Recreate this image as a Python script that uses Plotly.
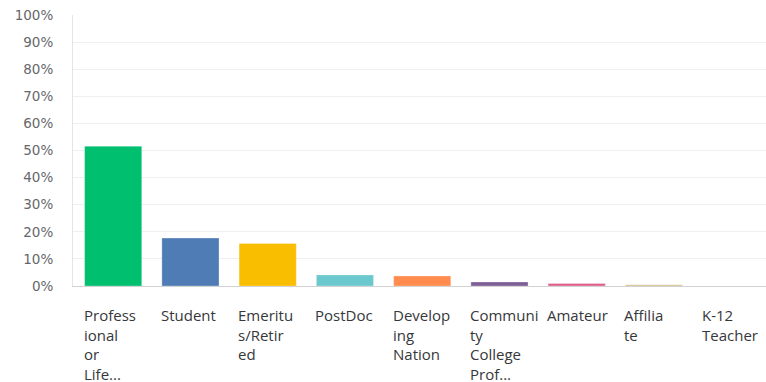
import plotly.graph_objects as go

# Respondent categories and their share of responses (%)
categories = ["Professional or Life...", "Student", "Emeritus/Retired", "PostDoc",
              "Developing Nation", "Community College Prof...", "Amateur", "Affiliate",
              "K-12 Teacher"]
tick_labels = ["Profess<br>ional<br>or<br>Life...", "Student", "Emeritu<br>s/Retir<br>ed",
               "PostDoc", "Develop<br>ing<br>Nation", "Communi<br>ty<br>College<br>Prof...",
               "Amateur", "Affilia<br>te", "K-12<br>Teacher"]
percent = [51.6, 17.7, 15.7, 4.1, 3.7, 1.5, 0.9, 0.5, 0.0]
colors = ["#00bf6f", "#507cb6", "#f9be00", "#6bc8cd", "#ff8b4f", "#7d5e96",
          "#dd5f8b", "#cfc285", "#a0a0a0"]

BAR_W = 0.74
x_idx = list(range(len(categories)))

fig = go.Figure(go.Bar(
    x=x_idx,
    y=percent,
    width=BAR_W,
    marker=dict(color=colors, line=dict(color="rgba(255,255,255,0.3)", width=1)),
    hovertext=categories,
    hoverinfo="text+y",
))

# Category labels, left-aligned under each bar's left edge
for i, lab in enumerate(tick_labels):
    fig.add_annotation(
        x=i - BAR_W / 2, xref="x", xanchor="left", xshift=-3,
        y=0, yref="paper", yanchor="top", yshift=-17,
        text=lab, showarrow=False, align="left",
        font=dict(family="Open Sans", size=15, color="#36373a"),
    )

fig.update_layout(
    width=766, height=382,
    margin=dict(l=73, r=0, t=15, b=96),
    paper_bgcolor="white", plot_bgcolor="white",
    showlegend=False,
    font=dict(family="DejaVu Sans"),
    xaxis=dict(
        range=[-0.52, 8.45], showticklabels=False, showgrid=False,
        zeroline=False, showline=True, linecolor="#d2d2d2", linewidth=1,
        fixedrange=True,
    ),
    yaxis=dict(
        range=[0, 100], tickvals=list(range(0, 101, 10)),
        ticktext=[f"{v}%" for v in range(0, 101, 10)],
        tickfont=dict(family="DejaVu Sans", size=13.5, color="#66676a"),
        showgrid=True, gridcolor="#efefef", gridwidth=1,
        zeroline=False, showline=True, linecolor="#e4e4e4", linewidth=1,
        ticks="", ticklabelstandoff=16, fixedrange=True,
    ),
)

fig.write_html("out.html")
